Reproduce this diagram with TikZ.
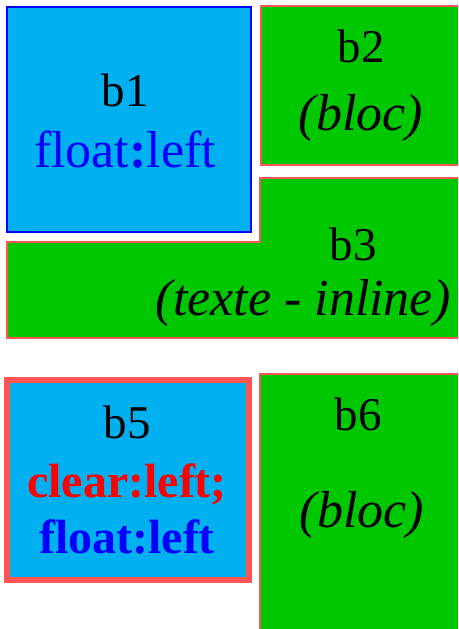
\documentclass[tikz,border=0pt]{standalone}
\usepackage{fontspec}
\setmainfont{Liberation Serif}
\definecolor{lblue}{RGB}{0,176,240}
\definecolor{boxgreen}{RGB}{0,200,0}
\definecolor{edgered}{RGB}{255,85,85}
\definecolor{txtblue}{RGB}{0,0,255}
\definecolor{txtred}{RGB}{255,0,0}
\tikzset{
  greenbox/.style={fill=boxgreen, draw=edgered, line width=2pt},
  bluebox/.style={fill=lblue, draw=txtblue, line width=2pt},
  redbluebox/.style={fill=lblue, draw=edgered, line width=6pt},
  lbl/.style={anchor=base, inner sep=0pt, font=\fontsize{47}{50}\selectfont},
  desc/.style={anchor=base, inner sep=0pt, font=\fontsize{52}{55}\selectfont},
  bdesc/.style={anchor=base, inner sep=0pt, font=\fontsize{48}{50}\selectfont\bfseries}
}
\begin{document}
\begin{tikzpicture}[x=1pt,y=-1pt]
\useasboundingbox (0,0) rectangle (458,629);
\fill[white] (0,0) rectangle (458,629);
\begin{scope}
\clip (0,0) rectangle (458,629);
% b2
\path[greenbox] (261,6) rectangle (475,164.5);
% b3
\path[greenbox] (6.7,242) -- (259.7,242) -- (259.7,177.5) -- (475,177.5) -- (475,338) -- (6.7,338) -- cycle;
% b1
\path[bluebox] (7,7) rectangle (251,232);
% b5
\path[redbluebox] (7,380) rectangle (248.7,580);
% b6
\path[greenbox] (259.7,374) rectangle (475,650);
\end{scope}
% texts
\node[lbl] (t1) at (125,106) {b1};
\node[desc, text=txtblue] (t1b) at (125,167) {float\textbf{:}left};
\node[lbl] (t2) at (361,62) {b2};
\node[desc] (t2b) at (361,130) {\itshape (bloc)};
\node[lbl] (t3) at (353,260) {b3};
\node[desc] (t3b) at (303,315) {\itshape (texte - inline)};
\node[lbl] (t5) at (127,438) {b5};
\node[bdesc, text=txtred] (t5b) at (127,497) {clear:left;};
\node[bdesc, text=txtblue] (t5c) at (127,553) {float:left};
\node[lbl] (t6) at (358,430) {b6};
\node[desc] (t6b) at (362,527) {\itshape (bloc)};
\end{tikzpicture}
\end{document}
